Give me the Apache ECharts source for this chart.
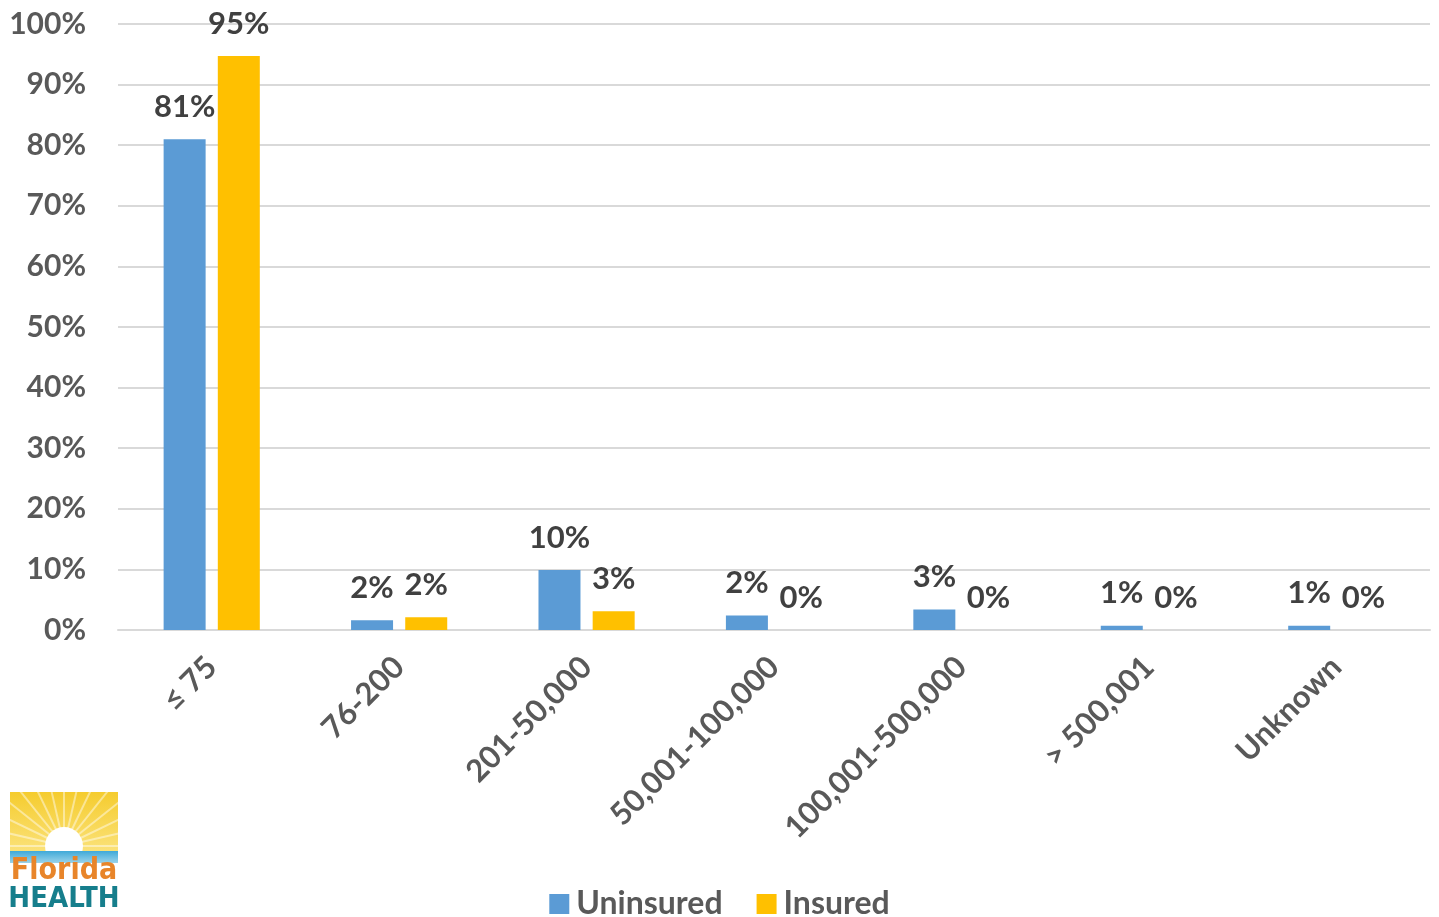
<!DOCTYPE html>
<html><head><meta charset="utf-8">
<script src="https://cdn.jsdelivr.net/npm/echarts@6/dist/echarts.min.js"></script>
<style>html,body{margin:0;padding:0;background:#fff}#c{width:1439px;height:917px}</style>
</head><body><div id="c"></div>
<script>
const categories = ['≤ 75', '76-200', '201-50,000', '50,001-100,000', '100,001-500,000', '> 500,001', 'Unknown'];
const uninsured = [81, 1.6, 9.9, 2.4, 3.4, 0.7, 0.7];
const insured = [94.7, 2.1, 3.1, 0, 0, 0, 0];
const yTicks = [0, 10, 20, 30, 40, 50, 60, 70, 80, 90, 100];

const FONT = 'Lato, "Open Sans", sans-serif';
const chart = echarts.init(document.getElementById('c'), null, {renderer: 'canvas'});

const rays = [];
for (let i = 0; i < 15; i++) {
  const a = Math.PI * (i / 14);
  rays.push({
    type: 'line',
    shape: {x1: 64, y1: 846, x2: 64 - Math.cos(a) * 75, y2: 846 - Math.sin(a) * 75},
    style: {stroke: 'rgba(255,255,255,0.45)', lineWidth: 2},
    z: 11
  });
}

const labelStyle = {
  show: true, position: 'top', distance: 17,
  formatter: p => Math.round(p.value) + '%',
  fontFamily: FONT, fontWeight: 'bold', fontSize: 31, color: '#404040'
};

chart.setOption({
  animation: false,
  grid: {left: 118, right: 9, top: 24, bottom: 287, containLabel: false},
  legend: {
    top: 888, left: 'center', itemWidth: 20, itemHeight: 20, itemGap: 34, padding: 0,
    icon: 'rect',
    textStyle: {fontFamily: FONT, fontWeight: 'bold', fontSize: 32, lineHeight: 32, color: '#595959', padding: [0, 0, 0, 2]},
    data: ['Uninsured', 'Insured']
  },
  xAxis: {
    type: 'category', data: categories,
    axisLine: {show: true, lineStyle: {color: '#D9D9D9', width: 2}},
    axisTick: {show: false},
    axisLabel: {rotate: 45, margin: 32, fontFamily: FONT, fontWeight: 'bold', fontSize: 31, color: '#595959', interval: 0}
  },
  yAxis: {
    type: 'value', min: 0, max: 100, interval: 10,
    axisLine: {show: false}, axisTick: {show: false},
    splitLine: {lineStyle: {color: '#D9D9D9', width: 2}},
    axisLabel: {
      margin: 32, fontFamily: FONT, fontWeight: 'bold', fontSize: 30, color: '#595959',
      formatter: v => yTicks.includes(v) ? v + '%' : ''
    }
  },
  series: [
    {name: 'Uninsured', type: 'bar', data: uninsured, barWidth: 42, barGap: '29%',
     itemStyle: {color: '#5B9BD5'}, label: labelStyle},
    {name: 'Insured', type: 'bar', data: insured, barWidth: 42,
     itemStyle: {color: '#FFC000'}, label: labelStyle}
  ],
  graphic: [
    {type: 'rect', shape: {x: 10, y: 792, width: 108, height: 60},
     style: {fill: new echarts.graphic.LinearGradient(0, 0, 0, 1, [{offset: 0, color: '#F5CC2E'}, {offset: 1, color: '#FBE27A'}])}, z: 10},
    ...rays,
    {type: 'circle', shape: {cx: 64, cy: 846, r: 19}, style: {fill: '#FFFFFF'}, z: 12},
    {type: 'rect', shape: {x: 10, y: 851, width: 108, height: 12},
     style: {fill: new echarts.graphic.LinearGradient(0, 0, 0, 1, [{offset: 0, color: '#3FA9D8'}, {offset: 1, color: '#9AD3EA'}])}, z: 13},
    {type: 'text', x: 64, y: 871, style: {text: 'Florida', fill: '#E8852A', font: 'bold 30px "DejaVu Sans Condensed", "Liberation Sans Narrow", sans-serif', align: 'center', verticalAlign: 'middle'}, z: 14},
    {type: 'text', x: 64, y: 899, style: {text: 'HEALTH', fill: '#167E8C', font: 'bold 29px "DejaVu Sans Condensed", "Liberation Sans Narrow", sans-serif', align: 'center', verticalAlign: 'middle'}, z: 14}
  ]
});
</script></body></html>
